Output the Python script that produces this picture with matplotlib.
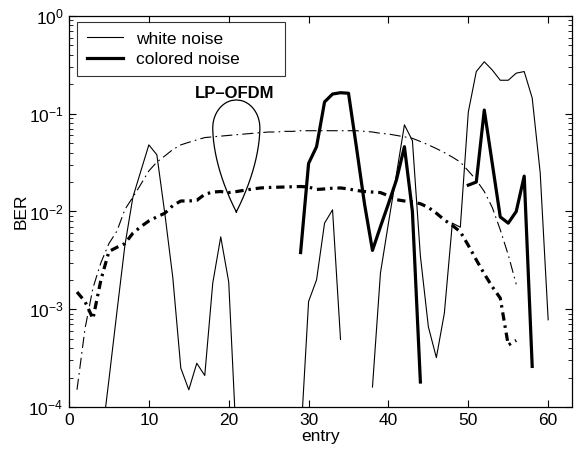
import numpy as np
import matplotlib
matplotlib.use('Agg')
import matplotlib.pyplot as plt
from matplotlib.ticker import LogLocator, LogFormatterMathtext, NullFormatter

plt.rcParams['font.family'] = ['Liberation Sans', 'DejaVu Sans']
plt.rcParams['mathtext.fontset'] = 'custom'
plt.rcParams['mathtext.rm'] = 'Liberation Sans'
plt.rcParams['mathtext.it'] = 'Liberation Sans:italic'
plt.rcParams['mathtext.bf'] = 'Liberation Sans:bold'
plt.rcParams['lines.scale_dashes'] = False

nan = np.nan
entry = np.arange(1, 61)

# white noise, OFDM (thin solid)
white = [nan, nan, nan, 4e-5, 1.9e-4, 9.4e-4, 4.5e-3, 1.4e-2, 2.6e-2, 4.8e-2,
         3.8e-2, 9.5e-3, 2.1e-3, 2.5e-4, 1.5e-4, 2.8e-4, 2.1e-4, 1.85e-3, 5.5e-3, 1.9e-3,
         3.7e-5, nan, nan, nan, nan, nan, nan, nan, 4.4e-5, 1.2e-3,
         2e-3, 7.6e-3, 1.04e-2, 4.9e-4, nan, nan, nan, 1.6e-4, 2.35e-3, 7.6e-3,
         2.4e-2, 7.7e-2, 5.3e-2, 3.5e-3, 6.6e-4, 3.2e-4, 9.1e-4, 7.6e-3, 6.9e-3, 0.104,
         0.27, 0.34, 0.28, 0.22, 0.22, 0.26, 0.27, 0.145, 0.025, 7.8e-4]

# colored noise, OFDM (thick solid)
colored = [nan]*28 + [3.8e-3, 3.1e-2,
           4.6e-2, 0.132, 0.159, 0.164, 0.162, 0.045, 0.012, 4e-3, 7e-3, 1.2e-2,
           2.1e-2, 4.6e-2, 1e-2, 1.8e-4, nan, nan, nan, nan, nan, 1.86e-2,
           2.0e-2, 0.109, 3.1e-2, 8.8e-3, 7.6e-3, 1.0e-2, 2.3e-2, 2.6e-4, nan, nan]

# LP-OFDM, white noise (thin dash-dot), entries 1..56
lp_white = [1.5e-4, 6.3e-4, 1.65e-3, 3e-3, 4.7e-3, 6.3e-3, 1.05e-2, 1.4e-2, 1.9e-2, 2.6e-2,
            3.2e-2, 3.7e-2, 4.3e-2, 4.8e-2, 5.1e-2, 5.4e-2, 5.7e-2, 5.8e-2, 5.9e-2, 6.0e-2,
            6.1e-2, 6.2e-2, 6.3e-2, 6.4e-2, 6.5e-2, 6.5e-2, 6.6e-2, 6.6e-2, 6.7e-2, 6.7e-2,
            6.7e-2, 6.7e-2, 6.7e-2, 6.7e-2, 6.7e-2, 6.7e-2, 6.6e-2, 6.5e-2, 6.3e-2, 6.2e-2,
            6.0e-2, 5.8e-2, 5.6e-2, 5.2e-2, 4.8e-2, 4.4e-2, 4.0e-2, 3.6e-2, 3.2e-2, 2.6e-2,
            2.1e-2, 1.6e-2, 1.1e-2, 6.5e-3, 3.6e-3, 1.8e-3]

# LP-OFDM, colored noise (thick dash-dot), entries 1..56
lp_colored = [1.5e-3, 1.2e-3, 8e-4, 2.0e-3, 3.9e-3, 4.3e-3, 4.7e-3, 6.0e-3, 7.0e-3, 8.0e-3,
              8.8e-3, 9.6e-3, 1.15e-2, 1.28e-2, 1.28e-2, 1.3e-2, 1.5e-2, 1.58e-2, 1.6e-2, 1.56e-2,
              1.6e-2, 1.65e-2, 1.7e-2, 1.74e-2, 1.76e-2, 1.77e-2, 1.78e-2, 1.79e-2, 1.8e-2, 1.78e-2,
              1.68e-2, 1.7e-2, 1.73e-2, 1.74e-2, 1.7e-2, 1.64e-2, 1.6e-2, 1.58e-2, 1.56e-2, 1.45e-2,
              1.32e-2, 1.28e-2, 1.25e-2, 1.2e-2, 1.1e-2, 9.6e-3, 8.2e-3, 7.2e-3, 6.2e-3, 4.5e-3,
              3.2e-3, 2.3e-3, 1.7e-3, 1.3e-3, 4.3e-4, 4.8e-4]

fig = plt.figure(figsize=(5.75, 4.51), dpi=100)
ax = fig.add_axes([0.12, 0.0976, 0.875, 0.867])

ax.semilogy(entry, white, 'k-', lw=0.8, label='white noise')
ax.semilogy(entry, colored, 'k-', lw=2.3, label='colored noise')
ax.semilogy(entry[:56], lp_white, 'k', lw=0.8, dashes=(8, 3, 1.2, 3))
ax.semilogy(entry[:56], lp_colored, 'k', lw=2.3, dashes=(6, 3.5, 1.8, 3.5))

# balloon around the LP-OFDM curves: pointed bottom, round top
s0 = 0.75
s = np.linspace(0, 1, 200)
w = np.where(s < s0, 1 - np.clip(1 - s/s0, 0, 1)**1.8,
             np.sqrt(np.clip(1 - ((s - s0)/(1 - s0))**2, 0, 1)))
bx = np.concatenate([20.95 + 2.95*w, (20.95 - 2.95*w)[::-1]])
by = np.concatenate([s, s[::-1]])
ax.plot(bx, 10**(-2.005 + 1.146*by), 'k-', lw=0.9)
ax.text(20.8, 0.16, 'LP\u2013OFDM', ha='center', va='center', fontsize=12, fontweight='bold')

ax.set_xlim(0, 63)
ax.set_ylim(1e-4, 1)
ax.set_xticks(range(0, 61, 10))
ax.yaxis.set_major_locator(LogLocator(base=10, numticks=10))
ax.yaxis.set_major_formatter(LogFormatterMathtext())
ax.yaxis.set_minor_locator(LogLocator(base=10, subs=np.arange(2, 10), numticks=10))
ax.yaxis.set_minor_formatter(NullFormatter())
ax.tick_params(which='both', direction='in', top=True, right=True, labelsize=12.5)
ax.tick_params(which='major', length=5, pad=4)
ax.tick_params(which='minor', length=3)
for sp in ax.spines.values():
    sp.set_linewidth(0.9)

ax.set_xlabel('entry', fontsize=12.5, labelpad=1)
ax.set_ylabel('BER', fontsize=12.5, labelpad=0)

leg = ax.legend(loc='upper left', bbox_to_anchor=(0.016, 0.845, 0.4135, 0.14),
                mode='expand', borderaxespad=0, fontsize=12.5, frameon=True,
                fancybox=False, edgecolor='k', handlelength=2.1, handletextpad=0.75,
                labelspacing=0.3, borderpad=0.55)
leg.get_frame().set_linewidth(0.8)

fig.savefig('out.png', dpi=100)
